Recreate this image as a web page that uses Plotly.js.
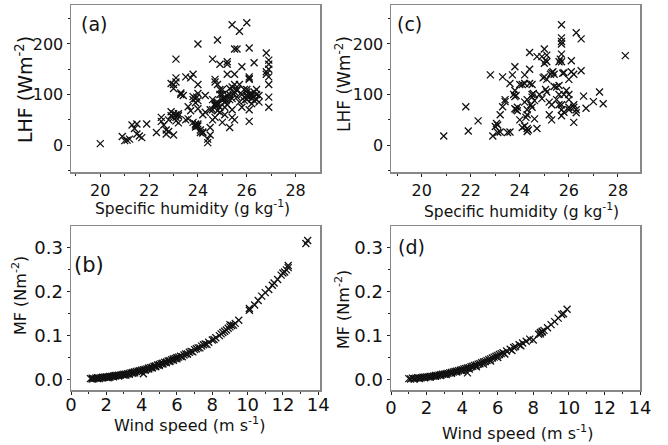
<!DOCTYPE html>
<html><head><meta charset="utf-8">
<script src="https://cdn.plot.ly/plotly-3.0.1.min.js"></script>
<style>html,body{margin:0;padding:0;background:#fff}#c{width:668px;height:445px}</style>
</head><body><div id="c"></div>
<script>
// Panel (a): specific humidity (g/kg) vs LHF (W m-2)
const aX = [20.0,20.9,21.0,21.1,21.2,21.3,21.4,21.5,21.5,21.6,21.7,21.9,22.3,22.5,22.5,22.6,22.7,22.7,22.8,22.8,22.9,22.9,23.0,23.0,23.0,22.9,23.0,23.1,23.1,23.1,23.1,23.1,23.2,23.2,23.2,23.3,23.3,23.4,23.5,23.5,23.6,23.6,23.7,23.7,23.8,23.8,23.8,23.9,23.9,23.9,23.9,23.8,24.0,24.0,24.0,24.0,24.0,24.0,24.1,24.1,24.2,24.2,24.2,24.3,24.4,24.4,24.5,24.5,24.6,24.6,24.6,24.6,24.7,24.7,24.7,24.7,24.7,24.8,24.8,24.8,24.8,24.9,24.9,24.9,24.9,25.0,25.0,25.0,25.0,25.1,25.1,25.1,25.1,25.2,25.2,25.2,25.2,25.2,25.3,25.3,25.3,25.3,25.4,25.4,25.4,25.4,25.4,25.5,25.5,25.5,25.5,25.5,25.6,25.6,25.6,25.7,25.7,25.7,25.8,25.8,25.8,25.9,25.9,26.0,26.0,26.0,26.0,26.1,26.1,26.1,26.1,26.1,26.1,26.2,26.2,26.2,26.3,26.3,26.3,26.3,26.4,26.4,26.4,26.5,26.5,26.8,26.8,26.8,26.9,26.9,26.9,26.9,26.9,26.9,26.9,23.9,23.95,24.0,23.95,24.7,24.75,25.1,25.15,25.45,26.2,26.25,26.1,23.1,23.0,24.9,25.6,25.0,24.5,24.3,24.8,26.0,25.9];
const aY = [3,17,9,10,12,40,33,22,42,18,15,42,25,55,47,40,30,22,27,50,58,66,62,20,120,122,112,170,133,125,55,48,58,44,62,100,103,98,135,50,52,76,68,133,140,90,96,84,92,42,36,45,38,200,120,102,72,42,30,25,24,26,60,98,5,12,20,35,50,70,90,170,130,125,82,78,55,85,80,120,208,160,110,75,65,100,92,88,45,60,75,85,95,165,160,140,98,80,112,100,35,90,238,115,92,70,55,190,140,120,105,50,190,108,95,225,85,120,155,75,100,110,95,242,105,90,98,192,135,130,70,47,100,102,82,92,95,105,163,88,90,100,110,85,98,182,145,140,168,160,150,135,120,95,75,40,38,88,95,80,84,92,88,100,98,96,132,60,55,100,110,110,70,65,68,110,88];

// Panel (c)
const cX = [20.9,21.8,21.9,22.3,22.8,22.9,23.0,23.05,23.1,23.1,23.2,23.2,23.3,23.3,23.4,23.4,23.5,23.6,23.6,23.7,23.75,23.8,23.8,23.8,23.8,23.9,23.9,24.0,24.1,24.1,24.2,24.2,24.2,24.2,24.3,24.3,24.3,24.3,24.3,24.35,24.4,24.4,24.4,24.5,24.5,24.5,24.6,24.5,24.6,24.7,24.7,24.8,24.9,24.9,24.95,25.0,25.0,25.1,25.1,25.05,25.1,25.2,25.2,25.3,25.3,25.3,25.4,25.4,25.5,25.5,25.6,25.65,25.7,25.7,25.7,25.7,25.7,25.6,25.7,25.7,25.7,25.8,25.8,25.9,26.0,26.0,26.0,26.0,26.0,26.1,26.1,26.2,26.3,26.5,26.5,26.2,26.3,26.3,26.6,26.7,27.0,27.25,27.4,28.3,23.85,24.25,24.55,25.0,25.05,25.25,25.35,25.7,25.75,26.2,25.6,24.45,23.85,25.8,26.2,24.0,25.6,25.1];
const cY = [18,76,28,48,139,18,37,43,40,25,60,26,135,76,90,86,25,26,122,139,100,155,108,96,72,68,75,50,35,120,122,139,38,85,90,60,70,27,33,30,183,150,122,120,100,95,88,75,52,33,175,100,92,175,133,135,190,165,178,110,105,60,85,80,50,143,140,116,115,90,165,170,180,238,200,212,205,100,80,70,58,143,65,108,100,90,75,70,130,167,145,45,222,210,147,80,70,64,97,73,86,105,82,177,70,55,102,162,168,140,145,165,142,75,80,80,98,100,140,120,118,130];

// Panel (b): wind speed (m/s) vs MF (N m-2)
const bX = [1.1,1.2,1.3,1.4,1.5,1.5,1.6,1.7,1.8,1.8,1.9,2.0,2.0,2.1,2.2,2.2,2.3,2.4,2.5,2.5,2.6,2.7,2.8,2.9,3.0,3.0,3.1,3.2,3.3,3.4,3.5,3.5,3.6,3.7,3.8,3.9,4.0,4.1,4.1,4.2,4.3,4.4,4.5,4.6,4.7,4.8,4.9,5.0,5.1,5.2,5.3,5.4,5.5,5.6,5.7,5.8,5.9,6.0,6.1,6.2,6.4,6.5,6.7,6.8,7.0,7.1,7.2,7.4,7.5,7.6,7.8,8.0,8.2,8.5,8.6,8.7,8.8,8.9,9.0,9.0,9.1,9.3,9.5,10.1,10.1,10.4,10.6,10.8,11.0,11.2,11.4,11.5,11.7,11.9,12.1,12.2,12.3,12.3,13.3,13.4,1.2,1.6,2.1,2.4,2.7,3.1,3.3,3.6,3.9,4.2,4.4,4.6,4.8,5.0,5.2,5.4,5.6,5.8,6.0,6.3,6.6,6.9,7.3,7.7,8.1,8.4,9.2,12.0];
const bY = [0.002,0.003,0.002,0.003,0.004,0.002,0.003,0.004,0.004,0.005,0.005,0.005,0.006,0.006,0.007,0.005,0.007,0.008,0.008,0.009,0.009,0.010,0.010,0.011,0.012,0.010,0.012,0.013,0.014,0.015,0.016,0.014,0.017,0.018,0.019,0.020,0.021,0.013,0.022,0.023,0.024,0.026,0.027,0.028,0.030,0.031,0.033,0.034,0.036,0.037,0.039,0.040,0.042,0.043,0.045,0.047,0.048,0.050,0.051,0.053,0.056,0.058,0.062,0.064,0.068,0.070,0.072,0.076,0.079,0.081,0.085,0.090,0.095,0.104,0.107,0.110,0.113,0.117,0.120,0.125,0.123,0.128,0.135,0.158,0.162,0.170,0.180,0.190,0.198,0.205,0.215,0.220,0.228,0.238,0.245,0.250,0.255,0.260,0.310,0.317,0.001,0.002,0.004,0.006,0.008,0.010,0.012,0.015,0.018,0.021,0.024,0.026,0.029,0.032,0.035,0.038,0.041,0.044,0.047,0.052,0.058,0.063,0.072,0.080,0.091,0.100,0.124,0.243];

// Panel (d)
const dX = [1.0,1.1,1.2,1.3,1.4,1.5,1.6,1.7,1.8,1.9,2.0,2.1,2.2,2.3,2.4,2.5,2.6,2.7,2.8,2.9,3.0,3.1,3.2,3.3,3.4,3.5,3.6,3.7,3.8,3.9,4.0,4.1,4.2,4.3,4.3,4.4,4.5,4.6,4.7,4.8,4.9,5.0,5.1,5.2,5.3,5.4,5.5,5.6,5.7,5.8,5.9,6.0,6.1,6.2,6.3,6.5,6.7,6.9,7.0,7.2,7.4,7.6,7.8,8.0,8.3,8.4,8.5,8.6,8.8,9.0,9.2,9.4,9.6,9.7,9.9,1.3,1.6,1.9,2.2,2.5,2.8,3.1,3.4,3.7,4.0,4.4,4.8,5.2,5.6,6.0,6.4,6.8,7.3,8.4,8.5];
const dY = [0.002,0.001,0.003,0.002,0.003,0.004,0.003,0.004,0.005,0.005,0.006,0.006,0.007,0.007,0.008,0.009,0.009,0.010,0.011,0.012,0.012,0.013,0.014,0.015,0.016,0.017,0.018,0.019,0.020,0.021,0.022,0.024,0.025,0.015,0.026,0.027,0.029,0.030,0.032,0.033,0.035,0.036,0.038,0.040,0.041,0.043,0.045,0.047,0.049,0.051,0.053,0.055,0.057,0.059,0.061,0.065,0.069,0.073,0.075,0.079,0.083,0.087,0.092,0.090,0.103,0.107,0.110,0.112,0.118,0.125,0.132,0.140,0.148,0.150,0.160,0.001,0.002,0.004,0.005,0.007,0.009,0.011,0.014,0.017,0.020,0.024,0.029,0.035,0.042,0.050,0.058,0.066,0.077,0.104,0.108];

const titles = {
  lhf: 'LHF (Wm<sup>-2</sup>)',
  q: 'Specific humidity (g kg<sup>-1</sup>)',
  mf: 'MF (Nm<sup>-2</sup>)',
  ws: 'Wind speed (m s<sup>-1</sup>)'
};
const panelLabels = ['(a)','(b)','(c)','(d)'];

const mk = {symbol:'x-thin-open', size:7, color:'#111', line:{width:1.3, color:'#111'}};
function tr(x,y,xa,ya){return {x:x,y:y,xaxis:xa,yaxis:ya,type:'scatter',mode:'markers',marker:mk,showlegend:false,hoverinfo:'skip'};}

const data = [tr(aX,aY,'x','y'), tr(cX,cY,'x2','y2'), tr(bX,bY,'x3','y3'), tr(dX,dY,'x4','y4')];

const fontFam = 'DejaVu Sans, Verdana, sans-serif';
function ax(o, fs){
  return Object.assign({
    showline:true, linecolor:'#888', linewidth:1.5, mirror:true,
    ticks:'outside', ticklen:3, tickwidth:1, tickcolor:'#222',
    showgrid:false, zeroline:false,
    tickfont:{family:fontFam, size:fs, color:'#111'}
  }, o);
}
const mn = v => ({ticks:'outside', ticklen:2, tickcolor:'#222', showgrid:false, tickvals:v});
const W=668, H=445;
function note(text, x, y, size, angle){
  return {text:text, xref:'paper', yref:'paper', x:x/W, y:1-y/H, xanchor:'center', yanchor:'middle',
    showarrow:false, textangle:angle||0, font:{family:fontFam, size:size, color:'#111'}};
}
function plab(text, x, y, size){
  return {text:text, xref:'paper', yref:'paper', x:x/W, y:1-y/H, xanchor:'left', yanchor:'middle',
    showarrow:false, font:{family:fontFam, size:size, color:'#111'}};
}

const layout = {
  width:W, height:H, margin:{l:0,r:0,t:0,b:0},
  paper_bgcolor:'#fff', plot_bgcolor:'#fff',
  font:{family:fontFam, color:'#111'},
  xaxis: ax({domain:[71/W,320/W], range:[18.8,29.0], tickvals:[20,22,24,26,28], minor:mn([19,21,23,25,27]), anchor:'y'},16),
  yaxis: ax({domain:[1-172/H,1-5/H], range:[-53,277], tickvals:[0,100,200], minor:mn([-50,50,150,250]), anchor:'x'},16),
  xaxis2: ax({domain:[391/W,640/W], range:[18.75,28.9], tickvals:[20,22,24,26,28], minor:mn([19,21,23,25,27]), anchor:'y2'},16),
  yaxis2: ax({domain:[1-172/H,1-5/H], range:[-53,277], tickvals:[0,100,200], minor:mn([-50,50,150,250]), anchor:'x2'},16),
  xaxis3: ax({domain:[71/W,320/W], range:[0,14.1], tickvals:[0,2,4,6,8,10,12,14], minor:mn([1,3,5,7,9,11,13]), anchor:'y3', ticklabelstandoff:-5},18),
  yaxis3: ax({domain:[1-390/H,1-226/H], range:[-0.024,0.35], tickvals:[0,0.1,0.2,0.3], ticktext:['0.0','0.1','0.2','0.3'], minor:mn([0.05,0.15,0.25]), anchor:'x3'},18),
  xaxis4: ax({domain:[391/W,640/W], range:[0,14], tickvals:[0,2,4,6,8,10,12,14], minor:mn([1,3,5,7,9,11,13]), anchor:'y4', ticklabelstandoff:-2},18),
  yaxis4: ax({domain:[1-390/H,1-226/H], range:[-0.024,0.35], tickvals:[0,0.1,0.2,0.3], ticktext:['0.0','0.1','0.2','0.3'], minor:mn([0.05,0.15,0.25]), anchor:'x4'},18),
  annotations:[
    note(titles.lhf, 24, 90, 19, -90),
    note(titles.q, 192, 207, 15.5),
    note(titles.lhf, 343, 84, 17, -90),
    note(titles.q, 521, 210, 15.5),
    note(titles.mf, 19, 296, 16, -90),
    note(titles.ws, 189, 424, 16),
    note(titles.mf, 342, 310, 16, -90),
    note(titles.ws, 517, 432, 16),
    plab(panelLabels[0], 79, 24, 19),
    plab(panelLabels[1], 72, 265, 21),
    plab(panelLabels[2], 395, 24, 19),
    plab(panelLabels[3], 396, 247, 19)
  ]
};
Plotly.newPlot('c', data, layout, {staticPlot:true, displayModeBar:false});
</script>
</body></html>
